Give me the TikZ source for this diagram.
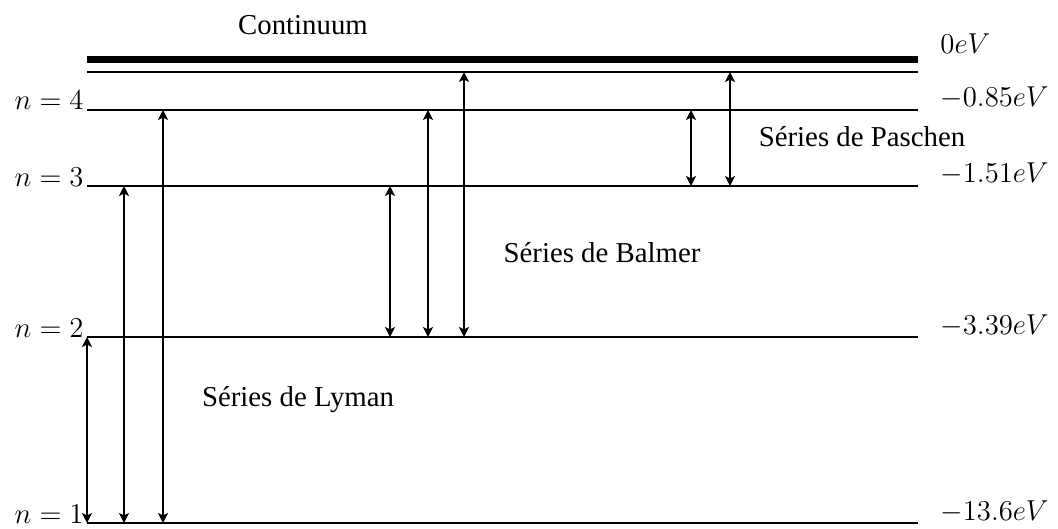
\documentclass[tikz,border=0pt]{standalone}
\usepackage{fontspec}
\setmainfont{Liberation Serif}
\newfontfamily\labelfont{Liberation Serif}
\usetikzlibrary{arrows.meta}
\begin{document}
\begin{tikzpicture}[x=0.5pt,y=-0.5pt,
  level/.style={line width=1pt},
  tip/.style={},
  trans/.style={line width=1pt,{Stealth[length=5pt,width=5pt,inset=1.2pt]}-{Stealth[length=5pt,width=5pt,inset=1.2pt]}},
  lvlname/.style={anchor=base east,inner sep=0pt,font=\Large},
  energy/.style={anchor=base west,inner sep=0pt,font=\Large},
  series/.style={inner sep=0pt,font=\labelfont\Large}]
\useasboundingbox (0,0) rectangle (1058,529);

% energy levels
\coordinate (c0) at (87,60);   \coordinate (c1) at (918,60);
\coordinate (k0) at (87,72);   \coordinate (k1) at (918,72);
\coordinate (n4a) at (87,110); \coordinate (n4b) at (918,110);
\coordinate (n3a) at (87,186); \coordinate (n3b) at (918,186);
\coordinate (n2a) at (87,337); \coordinate (n2b) at (918,337);
\coordinate (n1a) at (87,523); \coordinate (n1b) at (918,523);

\draw[line width=3.5pt] (c0) -- (c1);
\draw[level] (k0) -- (k1);
\draw[level] (n4a) -- (n4b);
\draw[level] (n3a) -- (n3b);
\draw[level] (n2a) -- (n2b);
\draw[level] (n1a) -- (n1b);

% quantum numbers
\node[lvlname] (q4) at (84,110) {$n=4$};
\node[lvlname] (q3) at (84,186) {$n=3$};
\node[lvlname] (q2) at (84,337) {$n=2$};
\node[lvlname] (q1) at (84,523) {$n=1$};

% energies
\node[energy] (e0) at (940,54) {$0eV$};
\node[energy] (e4) at (940,107) {$-0.85eV$};
\node[energy] (e3) at (940,183) {$-1.51eV$};
\node[energy] (e2) at (940,334) {$-3.39eV$};
\node[energy] (e1) at (940,520) {$-13.6eV$};

% series labels
\node[series] (cont) at (303,25) {Continuum};
\node[series] (pas) at (862,137) {Séries de Paschen};
\node[series] (bal) at (602,253) {Séries de Balmer};
\node[series] (lym) at (298,400) {Séries de Lyman};

% Lyman transitions
\coordinate (l1b) at (87,523);  \coordinate (l1t) at (87,337);
\coordinate (l2b) at (124,523); \coordinate (l2t) at (124,186);
\coordinate (l3b) at (163,523); \coordinate (l3t) at (163,110);
\draw[trans] (l1b) -- (l1t);
\draw[trans] (l2b) -- (l2t);
\draw[trans] (l3b) -- (l3t);

% Balmer transitions
\coordinate (b1b) at (390,337); \coordinate (b1t) at (390,186);
\coordinate (b2b) at (428,337); \coordinate (b2t) at (428,110);
\coordinate (b3b) at (464,337); \coordinate (b3t) at (464,72);
\draw[trans] (b1b) -- (b1t);
\draw[trans] (b2b) -- (b2t);
\draw[trans] (b3b) -- (b3t);

% Paschen transitions
\coordinate (p1b) at (691,186); \coordinate (p1t) at (691,110);
\coordinate (p2b) at (730,186); \coordinate (p2t) at (730,72);
\draw[trans] (p1b) -- (p1t);
\draw[trans] (p2b) -- (p2t);
\end{tikzpicture}
\end{document}
